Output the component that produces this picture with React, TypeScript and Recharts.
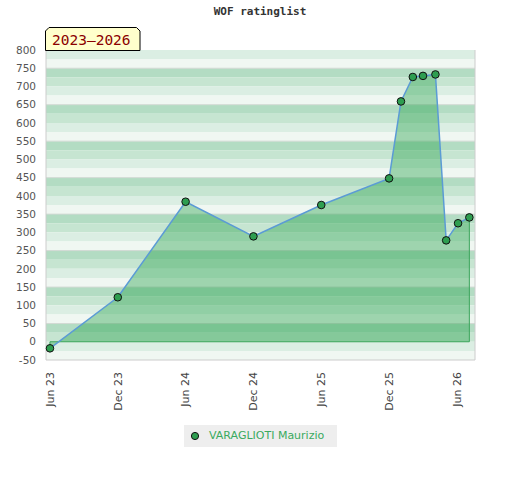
import React from "react";
import {
  ComposedChart,
  Area,
  Line,
  XAxis,
  YAxis,
  ReferenceArea,
  ReferenceLine,
} from "recharts";

// ---- data ----
const months = [0, 6, 12, 18, 24, 30, 31.05, 32.1, 33.0, 34.1, 35.05, 36.1, 37.1];
const ratings = [-18, 122, 384, 289, 375, 448, 659, 726, 729, 733, 278, 325, 341];
const tickMonths = [0, 6, 12, 18, 24, 30, 36];
const tickLabels = ["Jun 23", "Dec 23", "Jun 24", "Dec 24", "Jun 25", "Dec 25", "Jun 26"];
const leftTicks = [-50, 0, 50, 100, 150, 200, 250, 300, 350, 400, 450, 500, 550, 600, 650, 700, 750, 800];
const rightTicks = [-50, 0, 50, 100, 150, 200, 250, 300, 350, 400, 450, 500, 550, 600, 650, 700, 750];
const gridLines = [50, 150, 250, 350, 450, 550, 650, 750];
const seriesName = "VARAGLIOTI Maurizio";
const title = "WOF ratinglist";
const periodLabel = "2023–2026";

const bandColors = ["#b3dcc3", "#c6e5d1", "#dbeee3", "#f0f7f2"];

const data = months.map((m, i) => ({ m, r: ratings[i] }));

// outline of the filled region (sides and baseline at 0)
const edgeData = [
  { m: months[0], e: ratings[0] },
  { m: months[0], e: 0 },
  { m: months[months.length - 1], e: 0 },
  { m: months[months.length - 1], e: ratings[ratings.length - 1] },
];

const bands: { y1: number; y2: number; fill: string }[] = [];
for (let top = 800; top > -50; top -= 25) {
  const k = ((((750 - top) / 25) % 4) + 4) % 4;
  bands.push({ y1: top - 25, y2: top, fill: bandColors[k] });
}

const FONT = "DejaVu Sans, Verdana, sans-serif";
const MONO = "DejaVu Sans Mono, monospace";
const EDGE = "#3aa55a";

const XTick = (props: any) => {
  const { x, y, payload } = props;
  const idx = tickMonths.indexOf(payload.value);
  return (
    <text
      x={x}
      y={y}
      transform={`rotate(-90 ${x} ${y})`}
      textAnchor="end"
      dy="0.35em"
      fontSize={11}
      fontFamily={FONT}
      fill="#444"
    >
      {idx >= 0 ? tickLabels[idx] : ""}
    </text>
  );
};

const RightTick = (props: any) => {
  const { x, y, payload } = props;
  const v = payload.value;
  const labeled = (v + 50) % 100 === 0;
  return (
    <g>
      {v > -50 && v < 800 && (
        <line x1={x - 3} x2={x + 4} y1={y} y2={y} stroke="#111" strokeWidth={1} />
      )}
      {labeled && (
        <text x={x + 7} y={y} dy="0.35em" textAnchor="start" fontSize={10.5} fontFamily={FONT} fill="#111">
          {v}
        </text>
      )}
    </g>
  );
};

const Dot = (props: any) => {
  const { cx, cy } = props;
  if (cx == null || cy == null) return null;
  return <circle cx={cx} cy={cy} r={3.8} fill="#2e9e50" stroke="#111" strokeWidth={1} />;
};

export default function App() {
  return (
    <div style={{ position: "absolute", left: 0, top: 0, width: 520, height: 480, background: "#fff" }}>
      <ComposedChart
        width={520}
        height={480}
        data={data}
        margin={{ top: 50, right: 0, bottom: 60, left: 0 }}
      >
        <XAxis
          xAxisId="x"
          type="number"
          dataKey="m"
          domain={[-0.35, 37.6]}
          ticks={tickMonths}
          interval={0}
          tick={<XTick />}
          tickLine={false}
          tickSize={6}
          tickMargin={6}
          axisLine={{ stroke: "#cccccc" }}
          height={60}
          allowDuplicatedCategory={true}
        />
        <YAxis
          yAxisId="l"
          type="number"
          domain={[-50, 800]}
          ticks={leftTicks}
          interval={0}
          width={46}
          tickLine={false}
          tickSize={6}
          tickMargin={4}
          axisLine={{ stroke: "#cccccc" }}
          tick={{ fontSize: 10.5, fontFamily: FONT, fill: "#555" }}
        />
        <YAxis
          yAxisId="r"
          orientation="right"
          type="number"
          domain={[-50, 800]}
          ticks={rightTicks}
          interval={0}
          width={45}
          tickLine={false}
          tickSize={0}
          tickMargin={0}
          axisLine={{ stroke: "#cccccc" }}
          tick={<RightTick />}
        />
        {bands.map((b, i) => (
          <ReferenceArea
            key={"b" + i}
            xAxisId="x"
            yAxisId="l"
            y1={b.y1}
            y2={b.y2}
            fill={b.fill}
            fillOpacity={1}
            stroke="none"
            zIndex={-60}
          />
        ))}
        {gridLines.map((g) => (
          <ReferenceLine key={"g" + g} xAxisId="x" yAxisId="l" y={g} stroke="#d2dad4" strokeWidth={1} zIndex={-50} />
        ))}
        <Area
          xAxisId="x"
          yAxisId="l"
          dataKey="r"
          type="linear"
          fill="#22a048"
          fillOpacity={0.4}
          stroke="none"
          baseValue={0}
          dot={false}
          activeDot={false}
          isAnimationActive={false}
        />
        <Line
          xAxisId="x"
          yAxisId="l"
          data={edgeData}
          dataKey="e"
          type="linear"
          stroke={EDGE}
          strokeWidth={1}
          dot={false}
          activeDot={false}
          isAnimationActive={false}
        />
        <Line
          xAxisId="x"
          yAxisId="l"
          dataKey="r"
          type="linear"
          stroke="#5b9bd5"
          strokeWidth={1.5}
          dot={<Dot />}
          activeDot={false}
          isAnimationActive={false}
        />
      </ComposedChart>

      <div
        style={{
          position: "absolute",
          left: 0,
          top: 5,
          width: 520,
          textAlign: "center",
          fontFamily: MONO,
          fontWeight: "bold",
          fontSize: 11,
          color: "#333",
          lineHeight: "14px",
        }}
      >
        {title}
      </div>

      <svg style={{ position: "absolute", left: 0, top: 0 }} width={160} height={60}>
        <polygon
          points="45.5,50.5 45.5,31 49,27.5 136.5,27.5 140,31 140,50.5"
          fill="#ffffcc"
          stroke="#000"
          strokeWidth={1}
        />
        <text x={52} y={45} fontFamily={MONO} fontSize={14.5} fill="#8b0000">
          {periodLabel}
        </text>
      </svg>

      <div
        style={{
          position: "absolute",
          left: 184,
          top: 425,
          width: 153,
          height: 22,
          background: "#eeeeee",
          fontFamily: FONT,
          fontSize: 11,
          color: "#3aaa5e",
          lineHeight: "22px",
          whiteSpace: "nowrap",
        }}
      >
        <svg style={{ position: "absolute", left: 6, top: 6 }} width={10} height={10}>
          <circle cx={5} cy={5} r={3.6} fill="#2e9e50" stroke="#111" strokeWidth={1} />
        </svg>
        <span style={{ position: "absolute", left: 25, top: 0 }}>{seriesName}</span>
      </div>
    </div>
  );
}
